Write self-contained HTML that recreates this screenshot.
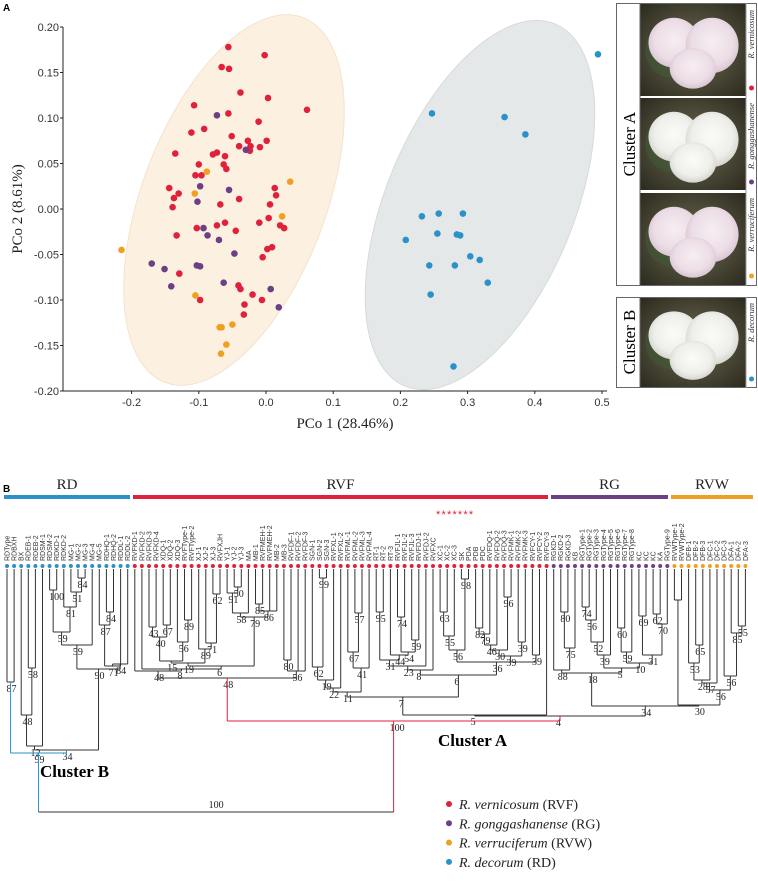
<!DOCTYPE html>
<html><head><meta charset="utf-8">
<style>
html,body{margin:0;padding:0;background:#fff;}
body{width:758px;height:891px;overflow:hidden;}
svg text{font-family:"Liberation Sans",sans-serif;}
.serif{font-family:"Liberation Serif",serif !important;}
</style></head>
<body>
<svg id="fig" width="758" height="891" viewBox="0 0 758 891" xmlns="http://www.w3.org/2000/svg">
<defs>
 <radialGradient id="bgA" cx="50%" cy="50%" r="70%"><stop offset="0" stop-color="#6d6a52"/><stop offset="1" stop-color="#2c2a1e"/></radialGradient>
 <radialGradient id="pet" cx="50%" cy="45%" r="55%"><stop offset="0" stop-color="#f6eef2"/><stop offset="0.7" stop-color="#ecdde6"/><stop offset="1" stop-color="#d8c6d2"/></radialGradient>
 <radialGradient id="petw" cx="50%" cy="45%" r="55%"><stop offset="0" stop-color="#fbfbf8"/><stop offset="0.7" stop-color="#eeeeea"/><stop offset="1" stop-color="#d6d6d0"/></radialGradient>
</defs>
<text x="3" y="11" font-size="10" font-weight="bold">A</text>
<text x="3" y="492" font-size="10" font-weight="bold">B</text>
<g id="scatter"></g>
<g id="photos"></g>
<g id="tree"></g>
<g id="legend"></g>
</svg>
<script>
// ---------- PCoA data ----------
const rvfX=[-0.056,-0.002,-0.066,-0.055,-0.038,0.003,0.061,-0.107,-0.056,-0.011,-0.092,-0.111,-0.051,-0.027,0.001,-0.040,-0.023,-0.009,-0.024,-0.135,-0.079,-0.073,-0.061,-0.063,-0.059,-0.100,-0.105,-0.096,-0.144,-0.130,-0.137,-0.139,0.013,0.015,-0.040,-0.068,0.006,-0.010,0.004,-0.073,-0.061,-0.045,-0.103,-0.133,0.021,0.027,0.002,0.009,-0.005,-0.129,-0.041,-0.038,-0.020,-0.098,-0.006,-0.032,-0.033];
const rvfY=[0.178,0.169,0.156,0.154,0.128,0.122,0.109,0.114,0.105,0.096,0.088,0.084,0.080,0.075,0.075,0.069,0.069,0.068,0.064,0.061,0.060,0.062,0.058,0.049,0.044,0.049,0.037,0.037,0.023,0.017,0.012,0.002,0.023,0.015,0.011,0.005,0.005,-0.015,-0.010,-0.018,-0.015,-0.024,-0.021,-0.029,-0.018,-0.021,-0.044,-0.042,-0.053,-0.071,-0.084,-0.088,-0.094,-0.100,-0.100,-0.105,-0.116];
const rgX=[-0.073,-0.030,-0.098,-0.055,-0.102,-0.093,-0.087,-0.070,-0.047,-0.170,-0.151,-0.103,-0.098,-0.141,-0.063,0.007,0.019];
const rgY=[0.103,0.065,0.025,0.021,0.008,-0.021,-0.029,-0.034,-0.049,-0.060,-0.066,-0.062,-0.063,-0.085,-0.081,-0.088,-0.108];
const rvwX=[-0.088,-0.106,0.036,0.024,-0.215,-0.105,-0.069,-0.066,-0.050,-0.059,-0.067];
const rvwY=[0.041,0.017,0.030,-0.008,-0.045,-0.095,-0.130,-0.130,-0.127,-0.149,-0.159];
const rdX=[0.494,0.247,0.355,0.386,0.232,0.257,0.293,0.208,0.255,0.284,0.289,0.304,0.318,0.243,0.281,0.330,0.245,0.279];
const rdY=[0.170,0.105,0.101,0.082,-0.008,-0.005,-0.005,-0.034,-0.027,-0.028,-0.029,-0.052,-0.056,-0.062,-0.062,-0.081,-0.094,-0.173];
const xTicks=[-0.2,-0.1,0.0,0.1,0.2,0.3,0.4,0.5];
const yTicks=[0.20,0.15,0.10,0.05,0.00,-0.05,-0.10,-0.15,-0.20];

// ---------- Dendrogram data ----------
const leafNames=["RDType","RDBXH","BX","RDEB-1","RDEB-2","RDSM-1","RDSM-2","RDKD-1","RDKD-2","MG-1","MG-2","MG-3","MG-4","MG-5","RDHQ-1","RDHQ-2","RDDL-1","RDDL-2",
"RVFKD-1","RVFKD-2","RVFKD-3","RVFKD-4","XDQ-1","XDQ-2","XDQ-3","RVFType-1","RVFType-2","XJ-1","XJ-2","XJ-3","RVFXJH","YJ-1","YJ-2","YJ-3","MA","MB-1","RVFMEH-1","RVFMEH-2","MB-2","MB-3","RVFDF-1","RVFDF-2","RVFDF-3","SGN-1","SGN-2","SGN-3","RVFXL-1","RVFXL-2","RVFML-1","RVFML-2","RVFML-3","RVFML-4","RT-1","RT-2","RT-3","RVFJL-1","RVFJL-2","RVFJL-3","RVFDJ-1","RVFDJ-2","RVFXC","XC-1","XC-2","XC-3","SK","PDA","PDB","PDC","RVFDQ-1","RVFDQ-2","RVFDQ-3","RVFMK-1","RVFMK-2","RVFMK-3","RVFCY-1","RVFCY-2","RVFCY-3",
"RGKD-1","RGKD-2","RGKD-3","KB","RGType-1","RGType-2","RGType-3","RGType-4","RGType-5","RGType-6","RGType-7","RGType-8","KC","KC","KC","KA","RGType-9",
"RVWType-1","RVWType-2","DFB-1","DFB-2","DFB-3","DFC-1","DFC-2","DFC-3","DFA-1","DFA-2","DFA-3"];
const leafGroup=[].concat(Array(18).fill(3),Array(59).fill(0),Array(17).fill(1),Array(11).fill(2));
const groupNames=["RVF","RG","RVW","RD"];
const groupColors=["#e0213b","#6d3f85","#f0a020","#2a92c8"];

function N(y,b,...c){return {y:y,b:b,c:c};}
// RD clade
const n84=N(578,"84",10,11), n51=N(592,"51",9,n84), n81=N(607,"81",8,n51), n100=N(590,"100",6,7);
const n59a=N(632,"59",n100,n81), n59b=N(645,"59",n59a,12);
const n84b=N(612,"84",14,15), n87b=N(625,"87",13,n84b), n71=N(666,"71",n87b,16), n84c=N(664,"84",n71,17);
const n90=N(669,"90",n59b,n84c);
const n58=N(668,"58",3,4), n48=N(715,"48",2,n58), n12=N(746,"12",n48,5), n34=N(750,"34",n12,n90);
const n87=N(682,"87",0,1);
const rdRoot=N(753,"99",n87,n34); rdRoot.col="#2a92c8";
// RVF left
const a43=N(627,"43",20,21), a67=N(625,"67",22,23), a40=N(637,"40",a43,a67);
const a89=N(620,"89",25,26), a56=N(642,"56",24,a89), a15=N(661,"15",a40,a56);
const a62=N(594,"62",29,30), a71=N(643,"71",28,a62), a89b=N(649,"89",27,a71), a19=N(663,"19",a15,a89b);
const b50=N(587,"50",32,33), b91=N(593,"91",31,b50), b85=N(604,"85",35,36), b86=N(611,"86",b85,37,38), b58=N(613,"58",b91,34), b79=N(617,"79",b58,b86);
const a6=N(666,"6",a19,b79), a8=N(669,"8",19,a6), a48L=N(671,"48",18,a8);
const c80=N(660,"80",39,40), c56=N(671,"56",c80,41,42);
const n48R=N(678,"48",a48L,c56);
// RVF right
const d99=N(578,"99",44,45), d62=N(667,"62",43,d99), d19=N(680,"19",d62,46), d22=N(688,"22",d19,47);
const d57=N(613,"57",49,50), d67=N(652,"67",48,d57), d41=N(668,"41",d67,51), d11=N(692,"11",d22,d41);
const d95=N(612,"95",52,53), d74=N(617,"74",55,56), d59=N(640,"59",57,58), d54=N(652,"54",d74,d59), d44=N(655,"44",54,d54);
const d31=N(660,"31",d95,d44), d23=N(666,"23",d31,59), d8=N(670,"8",d23,60);
const d63=N(612,"63",61,62), d55=N(636,"55",d63,63), d98=N(579,"98",64,65), d56=N(650,"56",d55,d98);
const d82=N(628,"82",66,67), d79=N(634,"79",d82,68), d96=N(597,"96",70,71), d46=N(645,"46",d79,69), d30=N(650,"30",d46,d96);
const d39=N(642,"39",72,73), d39b=N(656,"39",d30,d39), d39c=N(655,"39",74,75), d36=N(662,"36",d56,d39b,d39c);
const n6=N(675,"6",d8,d36), n7=N(697,"7",d11,n6), n5=N(715,"5",n7,76);
// RG
const e80=N(612,"80",78,79), e75=N(648,"75",e80,80), e88=N(670,"88",77,e75);
const e74=N(607,"74",81,82), e56=N(620,"56",e74,83), e52=N(642,"52",e56,84), e39=N(655,"39",e52,85);
const e60=N(628,"60",86,87), e59=N(652,"59",e60,88), e69=N(616,"69",89,90), e62=N(614,"62",91,92), e70=N(624,"70",e62,93);
const e31=N(655,"31",e69,e70), e10=N(663,"10",e59,e31), e5b=N(668,"5",e39,e10), e18=N(673,"18",e88,e5b);
// RVW
const f55=N(626,"55",103,104), f85=N(633,"85",102,f55), f56b=N(676,"56",101,f85);
const f65=N(645,"65",97,98), f53=N(663,"53",96,f65), f28=N(680,"28",f53,99), f57=N(683,"57",f28,100), f56=N(690,"56",f57,f56b);
const f94=N(600,"",94,95), f30=N(705,"30",f94,f56);
const n34b=N(706,"34",e18,f30), n4=N(716,"4",n5,n34b);
const clusterA=N(721,"100",n48R,n4); clusterA.col="#e0213b";
const treeRoot=N(812,"100",rdRoot,clusterA);

// ---------- helpers ----------
const NS="http://www.w3.org/2000/svg";
function el(tag,attrs,parent,txt){const e=document.createElementNS(NS,tag);for(const k in attrs)e.setAttribute(k,attrs[k]);if(txt!==undefined)e.textContent=txt;parent.appendChild(e);return e;}

// ---------- scatter ----------
const sc=document.getElementById('scatter');
const sx=v=>266+v*672, sy=v=>209-v*910;
el('ellipse',{cx:234,cy:200,rx:92,ry:195,transform:'rotate(20.7 234 200)',fill:'#fcf0e0',stroke:'#f3e3cc','stroke-width':1},sc);
el('ellipse',{cx:480,cy:205,rx:94,ry:196,transform:'rotate(22.5 480 205)',fill:'#e5e8e8',stroke:'#d6dada','stroke-width':1},sc);
let ax=el('line',{x1:63,y1:27,x2:63,y2:391,stroke:'#222','stroke-width':1},sc);


ax=el('line',{x1:63,y1:391,x2:607,y2:391,stroke:'#222','stroke-width':1},sc);


yTicks.forEach(v=>{const y=sy(v);el('line',{x1:60,y1:y,x2:63,y2:y,stroke:'#222'},sc);
 const t=el('text',{x:59,y:y+4,'font-size':11,'text-anchor':'end',fill:'#333'},sc,v.toFixed(2));
 
 });
xTicks.forEach(v=>{const x=sx(v);el('line',{x1:x,y1:391,x2:x,y2:394,stroke:'#222'},sc);
 const t=el('text',{x:x,y:406,'font-size':11,'text-anchor':'middle',fill:'#333'},sc,v.toFixed(1));
 
 });
let tt=el('text',{x:345,y:428,'font-size':15,'text-anchor':'middle',class:'serif',fill:'#222'},sc,'PCo 1 (28.46%)');


tt=el('text',{x:22,y:209,'font-size':15,'text-anchor':'middle',class:'serif',fill:'#222',transform:'rotate(-90 22 209)'},sc,'PCo 2 (8.61%)');


[[rvfX,rvfY,0],[rgX,rgY,1],[rvwX,rvwY,2],[rdX,rdY,3]].forEach(([xs,ys,g])=>{
 xs.forEach((v,i)=>{const c=el('circle',{cx:sx(v),cy:sy(ys[i]),r:3.3,fill:groupColors[g]},sc);
  
  });
});

// ---------- photos ----------
const ph=document.getElementById('photos');
function flower(x,y,w,h,grad,name){
 const g=el('g',{},ph);
 
 
 el('rect',{x:x,y:y,width:w,height:h,fill:'url(#bgA)'},g);
 el('ellipse',{cx:x+w*0.3,cy:y+h*0.5,rx:w*0.25,ry:h*0.3,fill:'#3f5a35',opacity:0.6},g);
 el('ellipse',{cx:x+w*0.32,cy:y+h*0.42,rx:w*0.24,ry:h*0.27,fill:grad},g);
 el('ellipse',{cx:x+w*0.68,cy:y+h*0.45,rx:w*0.25,ry:h*0.3,fill:grad},g);
 el('ellipse',{cx:x+w*0.5,cy:y+h*0.7,rx:w*0.22,ry:h*0.22,fill:grad},g);
}
el('rect',{x:616.5,y:3.5,width:140,height:282,fill:'#fff',stroke:'#666'},ph);
flower(640,4,106,92,'url(#pet)','photo-vernicosum');
flower(640,98,106,92,'url(#petw)','photo-gonggashanense');
flower(640,193,106,92,'url(#pet)','photo-verruciferum');
el('line',{x1:640,y1:3,x2:640,y2:286,stroke:'#666'},ph);
el('line',{x1:746,y1:3,x2:746,y2:286,stroke:'#999'},ph);
let cl=el('text',{x:635,y:144,'font-size':17,'text-anchor':'middle',class:'serif',transform:'rotate(-90 635 144)'},ph,'Cluster A');


el('rect',{x:616.5,y:297.5,width:140,height:90,fill:'#fff',stroke:'#666'},ph);
const fb=flower(640,298,106,89,'url(#petw)','photo-decorum');
el('line',{x1:640,y1:297,x2:640,y2:388,stroke:'#666'},ph);
el('line',{x1:746,y1:297,x2:746,y2:388,stroke:'#999'},ph);
cl=el('text',{x:635,y:342,'font-size':17,'text-anchor':'middle',class:'serif',transform:'rotate(-90 635 342)'},ph,'Cluster B');


[["R. vernicosum",7,88,0],["R. gonggashanense",100,182,1],["R. verruciferum",195,276,2],["R. decorum",300,379,3]].forEach(([n,ty,dy,g])=>{
 const t=el('text',{x:754,y:ty+3,'font-size':8.5,class:'serif','font-style':'italic','text-anchor':'end',fill:'#333',transform:'rotate(-90 754 '+(ty+3)+')'},ph,n);
 
 
 el('circle',{cx:751.5,cy:dy,r:2.5,fill:groupColors[g]},ph);
});

// ---------- dendrogram ----------
const tr=document.getElementById('tree');
const leafX=i=>7+i*7.1;
[["RD",4,130,3],["RVF",133,548,0],["RG",551,668,1],["RVW",671,753,2]].forEach(([n,a,b,g])=>{
 const r=el('rect',{x:a,y:495,width:b-a,height:4,fill:groupColors[g]},tr);
 
 
 const t=el('text',{x:(a+b)/2,y:489,'font-size':15,'text-anchor':'middle',class:'serif',fill:'#222'},tr,n);
 
 
});
const st=el('text',{x:436,y:518,'font-size':11,fill:'#e0213b','letter-spacing':'1.2'},tr,'*******');


leafNames.forEach((n,i)=>{
 const x=leafX(i);
 const t=el('text',{x:0,y:0,'font-size':7,fill:'#333',transform:'translate('+(x+2.4)+',561) rotate(-90)'},tr,n);
 
 
 const d=el('circle',{cx:x,cy:566,r:2,fill:groupColors[leafGroup[i]]},tr);
 
 
});
function draw(node,pcol){
 if(typeof node==='number') return {x:leafX(node),y:569};
 const pts=node.c.map(ch=>({p:draw(ch,node.col),ch:ch}));
 pts.forEach(({p,ch})=>{
  const col=node.col||(typeof ch!=='number'&&ch.col)||'#333';
  el('line',{x1:p.x,y1:p.y,x2:p.x,y2:node.y,stroke:col,'stroke-width':1},tr);
 });
 const xs=pts.map(o=>o.p.x), mn=Math.min(...xs), mx=Math.max(...xs);
 const h=el('line',{x1:mn,y1:node.y,x2:mx,y2:node.y,stroke:node.col||'#333','stroke-width':1},tr);
 
 
 const x=(mn+mx)/2;
 if(node.b){
  const above=node===treeRoot;
  el('text',{x:above?x:x-4,y:above?node.y-4:node.y+10,'font-size':10,class:'serif',fill:'#222','text-anchor':above?'middle':'start'},tr,node.b);
 }
 return {x:x,y:node.y};
}
draw(treeRoot,null);
let ca=el('text',{x:438,y:746,'font-size':17,'font-weight':'bold',class:'serif'},tr,'Cluster A');


ca=el('text',{x:40,y:777,'font-size':17,'font-weight':'bold',class:'serif'},tr,'Cluster B');



// ---------- legend ----------
const lg=document.getElementById('legend');
[["R. vernicosum"," (RVF)",0],["R. gonggashanense"," (RG)",1],["R. verruciferum"," (RVW)",2],["R. decorum"," (RD)",3]].forEach(([n,a,g],i)=>{
 const y=804+i*19.3;
 const c=el('circle',{cx:449,cy:y,r:3,fill:groupColors[g]},lg);
 
 
 const t=el('text',{x:459,y:y+5,'font-size':14,class:'serif',fill:'#222'},lg);
 
 
 el('tspan',{'font-style':'italic'},t,n);
 el('tspan',{},t,a);
});
</script>
</body></html>
